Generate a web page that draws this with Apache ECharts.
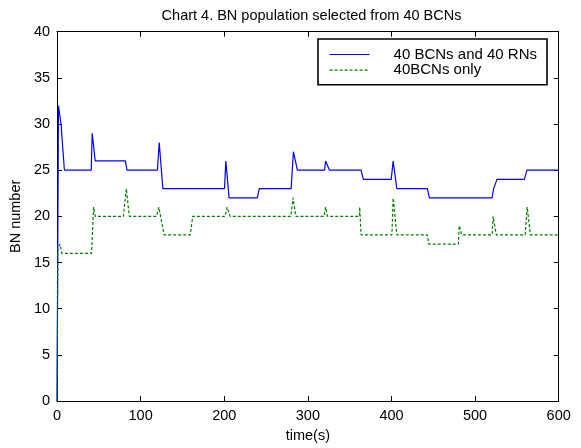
<!DOCTYPE html>
<html>
<head>
<meta charset="utf-8">
<script src="https://cdn.jsdelivr.net/npm/echarts@6/dist/echarts.min.js"></script>
<style>
html,body{margin:0;padding:0;background:#fff;}
#c{width:581px;height:448px;}
</style>
</head>
<body>
<div id="c"></div>
<script>
var titleText = 'Chart 4. BN population selected from 40 BCNs';
var xName = 'time(s)';
var yName = 'BN number';
var seriesNames = ['40 BCNs and 40 RNs', '40BCNs only'];
var xTicks = [0, 100, 200, 300, 400, 500, 600];
var yTicks = [0, 5, 10, 15, 20, 25, 30, 35, 40];

var blueTimes = [0, 1.7, 4.8, 8.8, 40.9, 42.1, 45.7, 81.7, 83.7, 120.1, 122.2, 126.6,
  200.3, 201.9, 205.8, 239.6, 241.9, 280, 282.7, 287.5, 320, 321.2, 323.5, 325.9,
  363.6, 366.4, 399.7, 402, 406.4, 443, 445.3, 520.3, 522.2, 526.2, 559, 561.9, 600];
var blueValues = [0, 32, 30, 25, 25, 29, 26, 26, 25, 25, 28, 23,
  23, 26, 22, 22, 23, 23, 27, 25, 25, 26, 26, 25,
  25, 24, 24, 26, 23, 23, 22, 22, 23, 24, 24, 25, 25];

var greenTimes = [0, 1, 3.6, 5.6, 41.3, 43.7, 45.7, 79.3, 82.9, 86.5, 119, 121.8, 128.1,
  159.4, 162.2, 201, 203.4, 207, 279.5, 282.4, 285.5, 319.3, 321.2, 323.5,
  361.6, 362, 363.6, 400.5, 402, 406.4, 443, 444.5, 480, 481, 484,
  520.3, 521.5, 525.4, 559.9, 562.3, 566.2, 600];
var greenValues = [0, 16.5, 17, 16, 16, 21, 20, 20, 23, 20, 20, 21, 18,
  18, 20, 20, 21, 20, 20, 22, 20, 20, 21, 20,
  20, 21, 18, 18, 22, 18, 18, 17, 17, 19, 18,
  18, 20, 18, 18, 21, 18, 18];

function pairs(ts, vs) { return ts.map(function (t, i) { return [t, vs[i]]; }); }

var FONT = 'Liberation Sans, Arial, sans-serif';
var FS = 14.5;

var baseAxis = {
  axisLine: { show: true, onZero: false, lineStyle: { color: '#000', width: 1 } },
  axisTick: { show: true, inside: true, length: 5, lineStyle: { color: '#000', width: 1 } },
  splitLine: { show: false }
};

var chart = echarts.init(document.getElementById('c'), null, { renderer: 'canvas' });
chart.setOption({
  backgroundColor: '#fff',
  animation: false,
  title: {
    text: titleText,
    left: 306.5, textAlign: 'center', top: 3,
    textStyle: { fontFamily: FONT, fontSize: FS, fontWeight: 'normal', color: '#000' }
  },
  legend: {
    orient: 'vertical',
    left: 318, top: 39,
    padding: [8, 10, 7, 11],
    itemWidth: 40, itemHeight: 14, itemGap: 0.7,
    borderColor: '#000', borderWidth: 1.6,
    backgroundColor: '#fff',
    itemStyle: { opacity: 0 },
    lineStyle: { width: 1.2 },
    data: seriesNames,
    textStyle: { fontFamily: FONT, fontSize: 15, color: '#000', padding: [0, 0, 0, 19] }
  },
  grid: { left: 54.3, right: 22.3, top: 31.7, bottom: 44, containLabel: false },
  xAxis: [
    Object.assign({}, baseAxis, {
      type: 'value', min: xTicks[0], max: xTicks[xTicks.length - 1], interval: 100,
      position: 'bottom',
      name: xName, nameLocation: 'middle', nameGap: 27,
      nameTextStyle: { fontFamily: FONT, fontSize: FS, color: '#000' },
      axisLabel: { margin: 7, fontFamily: FONT, fontSize: FS, color: '#000' }
    }),
    Object.assign({}, baseAxis, {
      type: 'value', min: xTicks[0], max: xTicks[xTicks.length - 1], interval: 100,
      position: 'top', axisLabel: { show: false }
    })
  ],
  yAxis: [
    Object.assign({}, baseAxis, {
      type: 'value', min: yTicks[0], max: yTicks[yTicks.length - 1], interval: 5,
      position: 'left',
      name: yName, nameLocation: 'middle', nameGap: 28, nameRotate: 90,
      nameTextStyle: { fontFamily: FONT, fontSize: FS, color: '#000' },
      axisLabel: { margin: 7, fontFamily: FONT, fontSize: FS, color: '#000' }
    }),
    Object.assign({}, baseAxis, {
      type: 'value', min: yTicks[0], max: yTicks[yTicks.length - 1], interval: 5,
      position: 'right', axisLabel: { show: false }
    })
  ],
  series: [
    {
      name: seriesNames[0], type: 'line', xAxisIndex: 0, yAxisIndex: 0,
      data: pairs(blueTimes, blueValues),
      symbol: 'none', smooth: false,
      lineStyle: { color: '#0000ff', width: 1.2 },
      itemStyle: { color: '#0000ff' }
    },
    {
      name: seriesNames[1], type: 'line', xAxisIndex: 0, yAxisIndex: 0,
      data: pairs(greenTimes, greenValues),
      symbol: 'none', smooth: false,
      lineStyle: { color: '#008000', width: 1.2, type: [3, 2] },
      itemStyle: { color: '#008000' }
    }
  ]
});
</script>
</body>
</html>
